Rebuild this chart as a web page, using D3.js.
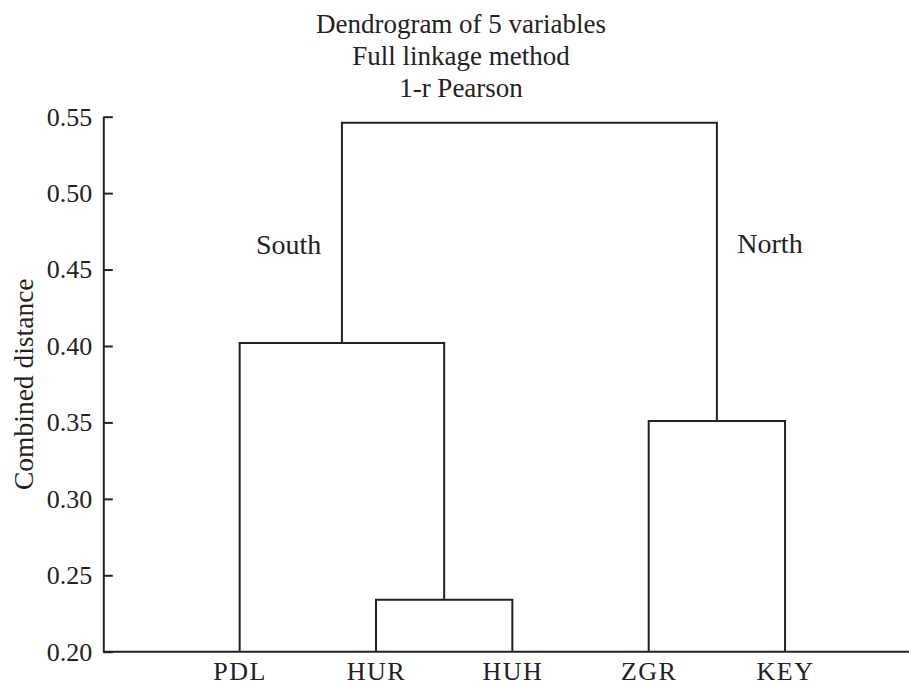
<!DOCTYPE html>
<html>
<head>
<meta charset="utf-8">
<script src="https://cdn.jsdelivr.net/npm/d3@7"></script>
<style>
  body { margin: 0; background: #fff; }
  svg { display: block; }
  text { font-family: "Liberation Serif", "Times New Roman", serif; fill: #222; }
</style>
</head>
<body>
<div id="chart"></div>
<script>
// ---------- Data ----------
const leaves = ['PDL', 'HUR', 'HUH', 'ZGR', 'KEY']

// linkage: node ids 0..4 are leaves, merges create ids 5, 6, 7, 8
const mergeLeft   = [1, 0, 3, 6]
const mergeRight  = [2, 5, 4, 7]
const mergeHeight = [0.234, 0.402, 0.351, 0.546]

const yTicks = [0.20, 0.25, 0.30, 0.35, 0.40, 0.45, 0.50, 0.55]

const titleLines = ['Dendrogram of 5 variables', 'Full linkage method', '1-r Pearson']
const groupNames = ['South', 'North']
const groupX     = [1.12, 4.65]
const groupY     = [0.46, 0.461]

// ---------- Layout ----------
const width = 909
const height = 686
const margin = { left: 103.3, top: 116.7, bottom: 686 - 651.7 }
const step = 136.35

const x = d3.scaleLinear()
  .domain([0, leaves.length + 1])
  .range([margin.left, margin.left + step * (leaves.length + 1)])

const y = d3.scaleLinear()
  .domain([0.20, 0.55])
  .range([height - margin.bottom, margin.top])

const svg = d3.select('#chart')
  .append('svg')
  .attr('width', width)
  .attr('height', height)

// ---------- Build node positions ----------
const nodeX = leaves.map((_, i) => i + 1)
const nodeH = leaves.map(() => 0.20)
mergeLeft.forEach((l, i) => {
  const r = mergeRight[i]
  nodeX.push((nodeX[l] + nodeX[r]) / 2)
  nodeH.push(mergeHeight[i])
})

// ---------- Dendrogram links ----------
const links = svg.append('g')
  .attr('fill', 'none')
  .attr('stroke', '#222')
  .attr('stroke-width', 2)

mergeLeft.forEach((l, i) => {
  const r = mergeRight[i]
  const h = mergeHeight[i]
  const path = d3.path()
  path.moveTo(x(nodeX[l]), y(nodeH[l]))
  path.lineTo(x(nodeX[l]), y(h))
  path.lineTo(x(nodeX[r]), y(h))
  path.lineTo(x(nodeX[r]), y(nodeH[r]))
  links.append('path').attr('d', path.toString())
})

// ---------- Axes ----------
svg.append('g')
  .attr('transform', `translate(${x(0)},0)`)
  .call(d3.axisLeft(y)
    .tickValues(yTicks)
    .tickFormat(d3.format('.2f'))
    .tickSizeInner(-9.5)
    .tickSizeOuter(0)
    .tickPadding(11))
  .call(ax => ax.selectAll('line, path').attr('stroke', '#222').attr('stroke-width', 2))
  .call(ax => ax.selectAll('text')
    .attr('fill', '#222')
    .style('font-size', '26px')
    .style('font-family', '"Liberation Serif", serif'))

svg.append('g')
  .attr('transform', `translate(0,${y(0.20)})`)
  .call(d3.axisBottom(x)
    .tickValues(leaves.map((_, i) => i + 1))
    .tickFormat((d) => leaves[d - 1])
    .tickSize(0)
    .tickPadding(9.5))
  .call(ax => ax.select('.domain').remove())
  .call(ax => ax.selectAll('text')
    .attr('fill', '#222')
    .style('font-size', '26px')
    .style('letter-spacing', '1.5px')
    .style('font-family', '"Liberation Serif", serif'))

// baseline runs to the edge of the picture
svg.append('line')
  .attr('x1', x(0)).attr('x2', width)
  .attr('y1', y(0.20)).attr('y2', y(0.20))
  .attr('stroke', '#222')
  .attr('stroke-width', 2)

// Y-axis label
svg.append('text')
  .attr('transform', `translate(33,${(y(0.20) + y(0.55)) / 2}) rotate(-90)`)
  .attr('text-anchor', 'middle')
  .style('font-size', '27.5px')
  .text('Combined distance')

// ---------- Title ----------
svg.append('g')
  .selectAll('text')
  .data(titleLines)
  .join('text')
  .attr('x', 461)
  .attr('y', (_, i) => 33 + i * 32)
  .attr('text-anchor', 'middle')
  .style('font-size', '27px')
  .text(d => d)

// ---------- Group labels ----------
svg.append('g')
  .selectAll('text')
  .data(groupNames)
  .join('text')
  .attr('x', (_, i) => x(groupX[i]))
  .attr('y', (_, i) => y(groupY[i]))
  .style('font-size', '28px')
  .text(d => d)
</script>
</body>
</html>
